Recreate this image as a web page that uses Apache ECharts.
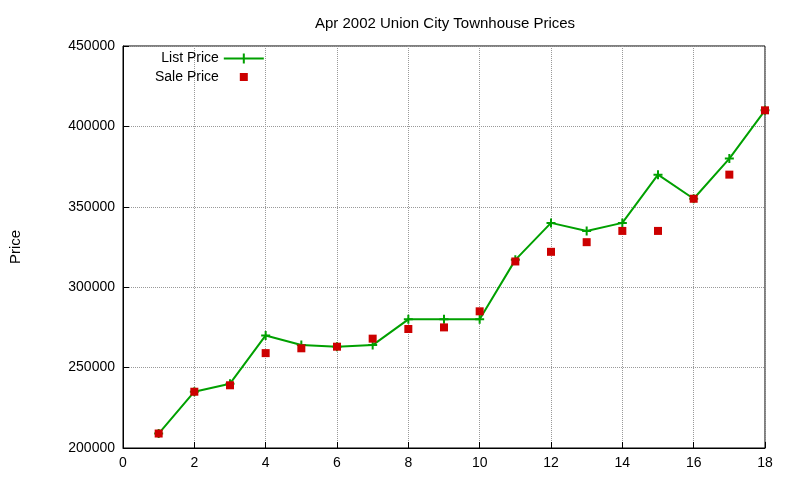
<!DOCTYPE html>
<html><head><meta charset="utf-8">
<script src="https://cdn.jsdelivr.net/npm/echarts@6/dist/echarts.min.js"></script>
<style>html,body{margin:0;padding:0;background:#fff}#c{width:800px;height:480px}</style>
</head><body><div id="c"></div>
<script>
const xs = [1,2,3,4,5,6,7,8,9,10,11,12,13,14,15,16,17,18];
const listPrice = [209000,235000,240000,270000,264000,263000,264000,280000,280000,280000,317000,340000,335000,340000,370000,355000,380000,410000];
const salePrice = [209000,235000,239000,259000,262000,263000,268000,274000,275000,285000,316000,322000,328000,335000,335000,355000,370000,410000];
const plus = 'path://M5,0L5,10M0,5L10,5';
const chart = echarts.init(document.getElementById('c'));
const font = 'Liberation Sans, Arial, sans-serif';
chart.setOption({
  animation:false,
  title:{text:'Apr 2002 Union City Townhouse Prices',left:440,textAlign:'center',top:11,textStyle:{fontSize:15,fontWeight:'normal',color:'#000',fontFamily:font}},
  grid:{left:119,right:35,top:46,bottom:32,show:true,borderColor:'#000',borderWidth:1},
  legend:{orient:'vertical',left:150,top:46,align:'right',itemGap:4,itemWidth:40,itemHeight:10,
    textStyle:{fontSize:14,color:'#000',fontFamily:font},
    data:[{name:'List Price',icon:'path://M0,5L40,5M20,0L20,10',itemStyle:{color:'none',borderColor:'#00a000',borderWidth:2}},
          {name:'Sale Price',icon:'path://M0,0L0,0M40,10L40,10M16,1L24,1L24,9L16,9Z',itemStyle:{color:'#cc0000',opacity:1}}]},
  xAxis:{type:'value',min:0,max:18,interval:2,
    axisLine:{lineStyle:{color:'#000'}},axisTick:{inside:true,length:6,lineStyle:{color:'#000'}},
    axisLabel:{fontSize:14,color:'#000',fontFamily:font},
    splitLine:{lineStyle:{type:'dotted',color:'#999'}}},
  yAxis:{type:'value',min:200000,max:450000,interval:50000,name:'Price',nameLocation:'middle',nameGap:100,
    nameTextStyle:{fontSize:15,color:'#000',fontFamily:font},
    axisLine:{show:true,lineStyle:{color:'#000'}},axisTick:{inside:true,length:6,lineStyle:{color:'#000'}},
    axisLabel:{fontSize:14,color:'#000',fontFamily:font,formatter:v=>String(v)},
    splitLine:{lineStyle:{type:'dotted',color:'#999'}}},
  series:[
    {name:'List Price',type:'line',data:xs.map((x,i)=>[x,listPrice[i]]),symbol:plus,symbolSize:9,
      lineStyle:{color:'#00a000',width:2},itemStyle:{color:'#00a000',borderColor:'#00a000',borderWidth:2}},
    {name:'Sale Price',type:'scatter',data:xs.map((x,i)=>[x,salePrice[i]]),symbol:'rect',symbolSize:8,
      itemStyle:{color:'#cc0000',opacity:1},z:3}
  ]
});
</script></body></html>
